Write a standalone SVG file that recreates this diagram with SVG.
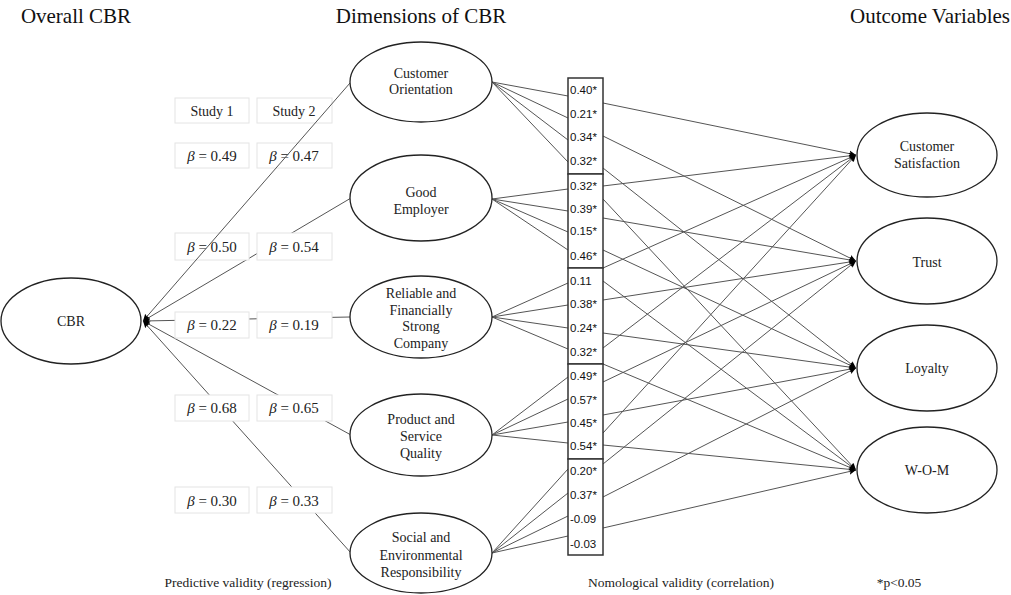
<svg xmlns="http://www.w3.org/2000/svg" width="1011" height="595" viewBox="0 0 1011 595">
<defs>
<marker id="ah" viewBox="0 0 10 10" refX="10" refY="5" markerWidth="7" markerHeight="7" markerUnits="userSpaceOnUse" orient="auto">
<path d="M0,0.5 L10,5 L0,9.5 L2,5 Z" fill="#000"/>
</marker>
</defs>
<style>
.ell{fill:#fff;stroke:#222;stroke-width:1.3}
.lbl{font-family:"Liberation Serif",serif;font-size:14px;fill:#222;text-anchor:middle}
.ttl{font-family:"Liberation Serif",serif;font-size:21px;fill:#111;text-anchor:middle}
.cap{font-family:"Liberation Serif",serif;font-size:13.5px;fill:#222;text-anchor:middle}
.val{font-family:"Liberation Sans",sans-serif;font-size:11.5px;fill:#111}
.ln{stroke:#555;stroke-width:1;fill:none}
.arr{stroke:#555;stroke-width:1;fill:none;marker-end:url(#ah)}
.bx{fill:#fff;stroke:#e4e4e4;stroke-width:1}
.cbox{fill:#fff;stroke:#333;stroke-width:1.5}
.beta{font-family:"Liberation Serif",serif;font-size:15px;fill:#222;text-anchor:middle}
</style>

<g id="titles">
<text class="ttl" x="76" y="23">Overall CBR</text>
<text class="ttl" x="421" y="23">Dimensions of CBR</text>
<text class="ttl" x="930" y="23">Outcome Variables</text>
<text class="cap" x="248" y="587">Predictive validity (regression)</text>
<text class="cap" x="681" y="587">Nomological validity (correlation)</text>
<text class="cap" x="899" y="587">*p&lt;0.05</text>
</g>

<g id="connectors-regression">
<line class="arr" x1="351" y1="198" x2="143" y2="321"/>
<line class="arr" x1="350" y1="317" x2="143" y2="321"/>
<line class="arr" x1="351" y1="435" x2="143" y2="321"/>
<line class="arr" x1="351" y1="553" x2="143" y2="321"/>
</g>

<g id="beta-boxes">
<rect class="bx" x="175" y="98" width="74" height="25"/>
<rect class="bx" x="257" y="98" width="75" height="25"/>
<text class="lbl" x="212" y="116">Study 1</text>
<text class="lbl" x="294" y="116">Study 2</text>
<rect class="bx" x="175" y="143" width="74" height="25"/>
<rect class="bx" x="257" y="143" width="75" height="25"/>
<text class="beta" x="212" y="161"><tspan font-style="italic">β</tspan> = 0.49</text>
<text class="beta" x="294" y="161"><tspan font-style="italic">β</tspan> = 0.47</text>
<rect class="bx" x="175" y="233" width="74" height="27"/>
<rect class="bx" x="257" y="233" width="75" height="27"/>
<text class="beta" x="212" y="252"><tspan font-style="italic">β</tspan> = 0.50</text>
<text class="beta" x="294" y="252"><tspan font-style="italic">β</tspan> = 0.54</text>
<rect class="bx" x="175" y="312" width="74" height="26"/>
<rect class="bx" x="257" y="312" width="75" height="26"/>
<text class="beta" x="212" y="330"><tspan font-style="italic">β</tspan> = 0.22</text>
<text class="beta" x="294" y="330"><tspan font-style="italic">β</tspan> = 0.19</text>
<rect class="bx" x="175" y="395" width="74" height="26"/>
<rect class="bx" x="257" y="395" width="75" height="26"/>
<text class="beta" x="212" y="413"><tspan font-style="italic">β</tspan> = 0.68</text>
<text class="beta" x="294" y="413"><tspan font-style="italic">β</tspan> = 0.65</text>
<rect class="bx" x="175" y="487" width="74" height="26"/>
<rect class="bx" x="257" y="487" width="75" height="26"/>
<text class="beta" x="212" y="506"><tspan font-style="italic">β</tspan> = 0.30</text>
<text class="beta" x="294" y="506"><tspan font-style="italic">β</tspan> = 0.33</text>
</g>

<g id="connector-co">
<line class="arr" x1="350" y1="83" x2="143" y2="321"/>
</g>

<g id="connectors-correlation">
<line class="ln" x1="492" y1="82" x2="568" y2="96"/>
<line class="ln" x1="492" y1="82" x2="568" y2="118"/>
<line class="ln" x1="492" y1="82" x2="568" y2="140"/>
<line class="ln" x1="492" y1="82" x2="568" y2="162"/>
<line class="ln" x1="492" y1="199" x2="568" y2="189"/>
<line class="ln" x1="492" y1="199" x2="568" y2="211"/>
<line class="ln" x1="492" y1="199" x2="568" y2="232"/>
<line class="ln" x1="492" y1="199" x2="568" y2="250"/>
<line class="ln" x1="492" y1="317" x2="568" y2="283"/>
<line class="ln" x1="492" y1="317" x2="568" y2="305"/>
<line class="ln" x1="492" y1="317" x2="568" y2="328"/>
<line class="ln" x1="492" y1="317" x2="568" y2="349"/>
<line class="ln" x1="492" y1="435" x2="568" y2="377"/>
<line class="ln" x1="492" y1="435" x2="568" y2="399"/>
<line class="ln" x1="492" y1="435" x2="568" y2="422"/>
<line class="ln" x1="492" y1="435" x2="568" y2="443"/>
<line class="ln" x1="492" y1="553" x2="568" y2="469"/>
<line class="ln" x1="492" y1="553" x2="568" y2="493"/>
<line class="ln" x1="492" y1="553" x2="568" y2="516"/>
<line class="ln" x1="492" y1="553" x2="568" y2="536"/>

<line class="arr" x1="603" y1="103" x2="856" y2="155"/>
<line class="arr" x1="603" y1="186" x2="856" y2="155"/>
<line class="arr" x1="603" y1="268" x2="856" y2="155"/>
<line class="arr" x1="603" y1="348" x2="856" y2="155"/>
<line class="arr" x1="603" y1="433" x2="856" y2="155"/>
<line class="arr" x1="603" y1="136" x2="856" y2="261"/>
<line class="arr" x1="603" y1="218" x2="856" y2="261"/>
<line class="arr" x1="603" y1="300" x2="856" y2="261"/>
<line class="arr" x1="603" y1="382" x2="856" y2="261"/>
<line class="arr" x1="603" y1="464" x2="856" y2="261"/>
<line class="arr" x1="603" y1="168" x2="856" y2="368"/>
<line class="arr" x1="603" y1="250" x2="856" y2="368"/>
<line class="arr" x1="603" y1="333" x2="856" y2="368"/>
<line class="arr" x1="603" y1="415" x2="856" y2="368"/>
<line class="arr" x1="603" y1="497" x2="856" y2="368"/>
<line class="arr" x1="603" y1="199" x2="856" y2="470"/>
<line class="arr" x1="603" y1="281" x2="856" y2="470"/>
<line class="arr" x1="603" y1="364" x2="856" y2="470"/>
<line class="arr" x1="603" y1="445" x2="856" y2="470"/>
<line class="arr" x1="603" y1="528" x2="856" y2="470"/>
</g>

<g id="correlation-table">
<rect class="cbox" x="568" y="78" width="35" height="96"/>
<rect class="cbox" x="568" y="174" width="35" height="94"/>
<rect class="cbox" x="568" y="268" width="35" height="96"/>
<rect class="cbox" x="568" y="364" width="35" height="95"/>
<rect class="cbox" x="568" y="459" width="35" height="96"/>
<text class="val" x="570" y="94">0.40*</text>
<text class="val" x="570" y="118">0.21*</text>
<text class="val" x="570" y="141">0.34*</text>
<text class="val" x="570" y="165">0.32*</text>
<text class="val" x="570" y="190">0.32*</text>
<text class="val" x="570" y="213">0.39*</text>
<text class="val" x="570" y="235">0.15*</text>
<text class="val" x="570" y="260">0.46*</text>
<text class="val" x="570" y="285">0.11</text>
<text class="val" x="570" y="308">0.38*</text>
<text class="val" x="570" y="332">0.24*</text>
<text class="val" x="570" y="356">0.32*</text>
<text class="val" x="570" y="380">0.49*</text>
<text class="val" x="570" y="404">0.57*</text>
<text class="val" x="570" y="427">0.45*</text>
<text class="val" x="570" y="450">0.54*</text>
<text class="val" x="570" y="475">0.20*</text>
<text class="val" x="570" y="499">0.37*</text>
<text class="val" x="570" y="523">-0.09</text>
<text class="val" x="570" y="548">-0.03</text>
</g>

<g id="node-cbr">
<ellipse class="ell" cx="71" cy="321" rx="70" ry="43"/>
<text class="lbl" x="71" y="326">CBR</text>
</g>
<g id="node-co">
<ellipse class="ell" cx="421" cy="82" rx="71" ry="40"/>
<text class="lbl" x="421" y="78">Customer</text>
<text class="lbl" x="421" y="94">Orientation</text>
</g>
<g id="node-ge">
<ellipse class="ell" cx="421" cy="198" rx="71" ry="43"/>
<text class="lbl" x="421" y="197">Good</text>
<text class="lbl" x="421" y="214">Employer</text>
</g>
<g id="node-rf">
<ellipse class="ell" cx="421" cy="317" rx="71" ry="41"/>
<text class="lbl" x="421" y="298">Reliable and</text>
<text class="lbl" x="421" y="315">Financially</text>
<text class="lbl" x="421" y="331">Strong</text>
<text class="lbl" x="421" y="348">Company</text>
</g>
<g id="node-ps">
<ellipse class="ell" cx="421" cy="435" rx="71" ry="41"/>
<text class="lbl" x="421" y="424">Product and</text>
<text class="lbl" x="421" y="441">Service</text>
<text class="lbl" x="421" y="458">Quality</text>
</g>
<g id="node-se">
<ellipse class="ell" cx="421" cy="553" rx="71" ry="40"/>
<text class="lbl" x="421" y="542">Social and</text>
<text class="lbl" x="421" y="560">Environmental</text>
<text class="lbl" x="421" y="577">Responsibility</text>
</g>
<g id="node-cs">
<ellipse class="ell" cx="927" cy="155" rx="70" ry="42"/>
<text class="lbl" x="927" y="151">Customer</text>
<text class="lbl" x="927" y="168">Satisfaction</text>
</g>
<g id="node-trust">
<ellipse class="ell" cx="927" cy="261" rx="70" ry="43"/>
<text class="lbl" x="927" y="267">Trust</text>
</g>
<g id="node-loyalty">
<ellipse class="ell" cx="927" cy="368" rx="70" ry="43"/>
<text class="lbl" x="927" y="373">Loyalty</text>
</g>
<g id="node-wom">
<ellipse class="ell" cx="927" cy="470" rx="70" ry="43"/>
<text class="lbl" x="927" y="475">W-O-M</text>
</g>
</svg>
